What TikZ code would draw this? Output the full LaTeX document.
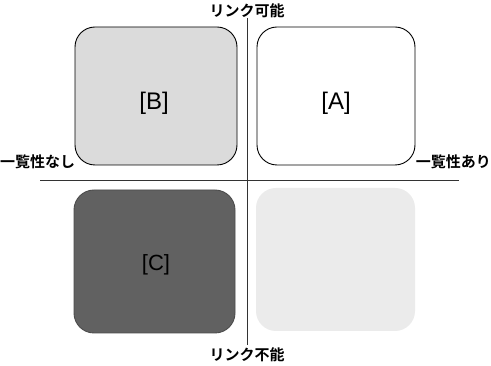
\documentclass[tikz,border=0pt]{standalone}
\usepackage{fontspec}
\setmainfont{Liberation Sans}
\newfontfamily\jpfont{Noto Sans CJK JP}[BoldFont={Noto Sans CJK JP Bold}]
\begin{document}
\begin{tikzpicture}[x=1pt,y=-1pt,
  quad/.style={draw=black,line width=0.9pt,rounded corners=20pt},
  axis/.style={draw=black!80,line width=0.8pt},
  jlabel/.style={font=\jpfont\bfseries\fontsize{15}{15}\selectfont,inner sep=0pt},
  qlabel/.style={font=\fontsize{24}{24}\selectfont,inner sep=0pt}]
\useasboundingbox (0,0) rectangle (491,366);
\fill[white] (0,0) rectangle (491,366);
% quadrants
\draw[quad,fill=black!14] (75,27) rectangle (237,165);
\draw[quad,fill=white] (257,27) rectangle (415,165);
\draw[quad,fill=black!62,draw=black!70] (74,190) rectangle (235,333);
\fill[black!8,rounded corners=20pt] (256,188) rectangle (415,331);
% axes
\coordinate (vt) at (247,18);
\coordinate (vb) at (247,345);
\coordinate (hl) at (40,180);
\coordinate (hr) at (459,180);
\draw[axis] (vt) -- (vb);
\draw[axis] (hl) -- (hr);
% labels
\node[jlabel] (top) at (247,11) {リンク可能};
\node[jlabel] (bot) at (247,355) {リンク不能};
\node[jlabel,anchor=west] (left) at (0,162) {一覧性なし};
\node[jlabel,anchor=east] (right) at (491,162) {一覧性あり};
\node[qlabel] (B) at (154,103) {[B]};
\node[qlabel] (A) at (336,103) {[A]};
\node[qlabel,font=\fontsize{22}{22}\selectfont\rmfamily] (C) at (156,265) {[C]};
\end{tikzpicture}
\end{document}
